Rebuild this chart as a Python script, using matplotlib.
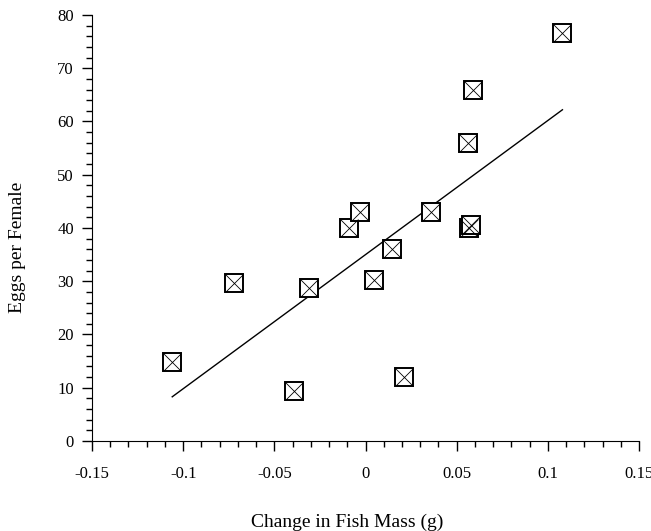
import numpy as np
import matplotlib.pyplot as plt
from matplotlib.ticker import MultipleLocator

### Data
mass_change = [-0.106, -0.072, -0.031, -0.039, -0.009, -0.003, 0.0044, 0.0143,
               0.021, 0.036, 0.057, 0.058, 0.056, 0.059, 0.108]
eggs = [14.8, 29.7, 28.8, 9.4, 40.0, 43.0, 30.2, 36.1,
        12.0, 43.0, 40.0, 40.6, 56.0, 65.9, 76.6]

### Fitted line (end points)
fit_x = [-0.106, 0.108]
fit_y = [8.3, 62.2]

plt.rcParams['font.family'] = ['Liberation Serif', 'DejaVu Serif']

fig = plt.figure(figsize=(6.51, 5.31), dpi=100)
ax = fig.add_axes([0.1413, 0.1695, 0.8403, 0.8023])

ax.plot(fit_x, fit_y, color='black', lw=1.0, zorder=2)

### square with an X inside
ax.plot(mass_change, eggs, ls='none', marker='s', ms=12.5, mfc='white',
        mec='black', mew=1.4, zorder=3)
ax.plot(mass_change, eggs, ls='none', marker='x', ms=12.5, mec='black',
        mew=0.6, zorder=4)

ax.set_xlim(-0.15, 0.15)
ax.set_ylim(0, 80)
ax.xaxis.set_minor_locator(MultipleLocator(0.01))
ax.yaxis.set_major_locator(MultipleLocator(10))
ax.yaxis.set_minor_locator(MultipleLocator(2))
ax.set_xticks([-0.15, -0.1, -0.05, 0, 0.05, 0.1, 0.15])
ax.set_xticklabels(['-0.15', '-0.1', '-0.05', '0', '0.05', '0.1', '0.15'])

ax.spines['top'].set_visible(False)
ax.spines['right'].set_visible(False)
ax.tick_params(which='major', length=7, width=1, labelsize=12, pad=6)
ax.tick_params(which='minor', length=4.5, width=1)
ax.tick_params(axis='x', pad=11)

ax.set_xlabel('Change in Fish Mass (g)', fontsize=14, va='center')
ax.set_ylabel('Eggs per Female', fontsize=14, va='center')
ax.xaxis.set_label_coords(0.466, -0.19)
ax.yaxis.set_label_coords(-0.137, 0.455)

fig.savefig('out.png', dpi=100)
